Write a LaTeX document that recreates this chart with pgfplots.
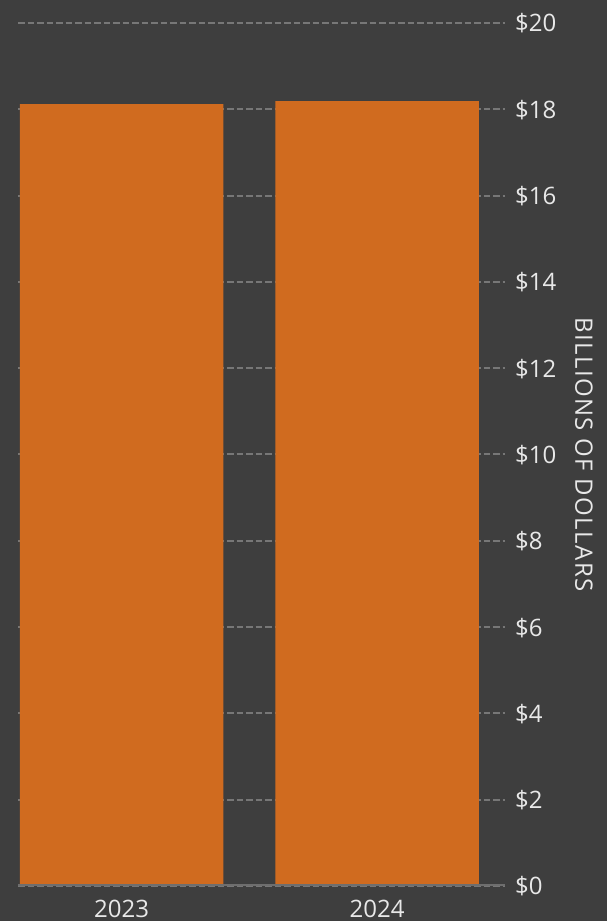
\documentclass[border=0pt]{standalone}
\usepackage{fontspec}
\setmainfont{Open Sans}
\usepackage{pgfplots}
\pgfplotsset{compat=1.18}

\definecolor{bgc}{HTML}{3E3E3E}
\definecolor{barc}{HTML}{D06B1F}
\definecolor{gridc}{HTML}{777777}
\definecolor{basec}{HTML}{6E6E6E}
\definecolor{txtc}{HTML}{E8E8E8}

\begin{document}
\begin{tikzpicture}[x=1pt,y=1pt]
\fill[bgc] (0,0) rectangle (607,921);
\begin{axis}[
    at={(18pt,35pt)}, anchor=south west,
    scale only axis,
    width=487pt, height=863pt,
    xmin=-0.405, xmax=1.5,
    ymin=0, ymax=20,
    xtick={0,1},
    xticklabels={2023,2024},
    ytick={0,2,...,20},
    yticklabel pos=right,
    yticklabel={\$\pgfmathprintnumber{\tick}},
    /pgf/number format/assume math mode=true,
    major tick length=0pt,
    axis line style={draw=none},
    ymajorgrids=true,
    grid style={gridc, line width=2pt, dash pattern=on 6.5pt off 3pt},
    tick label style={font=\fontsize{24}{28}\selectfont, text=txtc, inner sep=0pt},
    yticklabel style={anchor=base west, xshift=10pt, yshift=-9pt},
    xticklabel style={anchor=base, yshift=-31pt},
    ylabel={BILLIONS OF DOLLARS},
    ylabel style={at={(axis description cs:1.162,0.5)}, anchor=center, rotate=180,
        font=\fontsize{24}{28}\selectfont\addfontfeature{LetterSpace=6}, text=txtc},
    ybar, bar width=0.796, bar shift=0pt,
]
\addplot[fill=barc, draw=none] coordinates {(0,18.12) (1,18.19)};
\draw[basec, line width=3pt] (axis cs:-0.405,0) -- (axis cs:1.5,0);
\end{axis}
\pgfresetboundingbox
\useasboundingbox (0,0) rectangle (607,921);
\end{tikzpicture}
\end{document}
